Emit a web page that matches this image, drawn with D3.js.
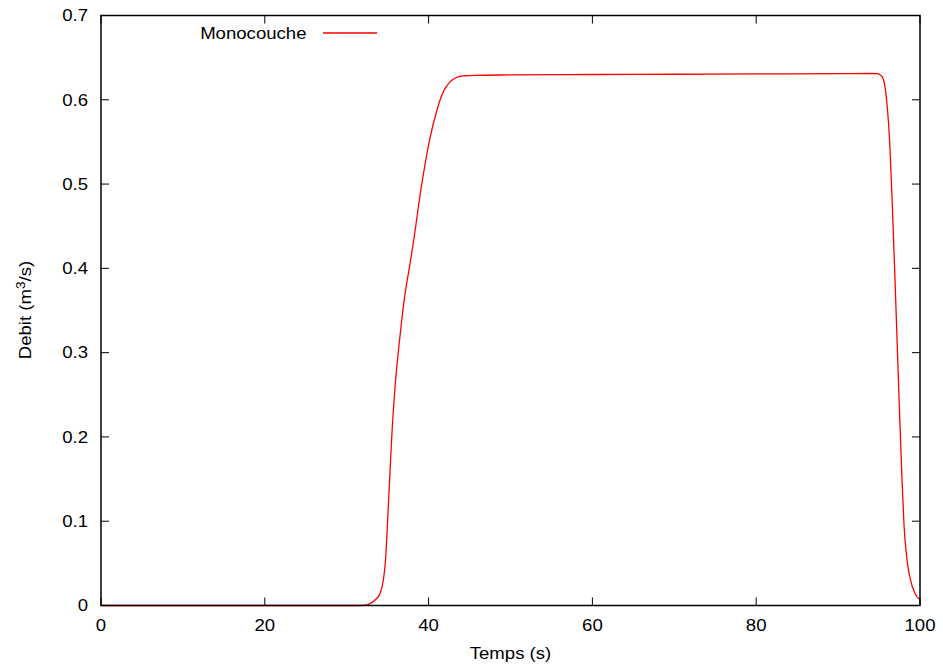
<!DOCTYPE html>
<html><head><meta charset="utf-8">
<script src="https://cdn.jsdelivr.net/npm/d3@7"></script>
<style>body{margin:0;background:#fff}text{font-family:"Liberation Sans",Arial,sans-serif;}</style>
</head><body>
<svg id="c" width="943" height="668"></svg>
<script>
const seriesName = "Monocouche";
const time = [0,10,20,30,32,32.8,33.4,34.07,34.7,35.1,35.5,35.9,36.3,36.7,37.1,37.6,38.1,39.1,40.2,41.0,41.6,42.1,42.6,43.1,43.7,44.5,45.5,50,60,70,80,90,94,94.8,95.2,95.5,96.0,96.3,96.6,96.9,97.2,97.5,97.8,98.05,98.4,98.8,99.4,100];
const debit = [0,0,0,0,0.0002,0.002,0.006,0.014,0.049,0.121,0.2,0.259,0.301,0.337,0.368,0.398,0.428,0.496,0.556,0.587,0.605,0.615,0.621,0.625,0.6275,0.6285,0.629,0.6295,0.630,0.6303,0.6307,0.631,0.6312,0.631,0.629,0.625,0.592,0.55,0.48,0.40,0.315,0.23,0.15,0.095,0.055,0.032,0.014,0.007];
const xTicks = [0,20,40,60,80,100];
const yTicks = [0,0.1,0.2,0.3,0.4,0.5,0.6,0.7];
const xTickLabels = ["0","20","40","60","80","100"];
const yTickLabels = ["0","0.1","0.2","0.3","0.4","0.5","0.6","0.7"];

const svg = d3.select("#c");
const L=101, R=920, T=15.5, B=605.5;
const x = d3.scaleLinear().domain([0,100]).range([L,R]);
const y = d3.scaleLinear().domain([0,0.7]).range([B,T]);
const tl = 8;
const FS = 16.3, SX = 1.14;

function label(px, py, anchor, str, rot){
  const g = svg.append("g").attr("transform",`translate(${px},${py})` + (rot?` rotate(${rot})`:"") + ` scale(${SX},1)`);
  return g.append("text").attr("x",0).attr("y",0).attr("text-anchor",anchor).attr("font-size",FS).text(str);
}

// ticks
const g = svg.append("g").attr("stroke","#000").attr("stroke-width",1);
xTicks.forEach(v=>{
  g.append("line").attr("x1",x(v)).attr("x2",x(v)).attr("y1",B).attr("y2",B-tl);
  g.append("line").attr("x1",x(v)).attr("x2",x(v)).attr("y1",T).attr("y2",T+tl);
});
yTicks.forEach(v=>{
  g.append("line").attr("x1",L).attr("x2",L+tl).attr("y1",y(v)).attr("y2",y(v));
  g.append("line").attr("x1",R).attr("x2",R-tl).attr("y1",y(v)).attr("y2",y(v));
});
xTicks.forEach((v,i)=> label(x(v), 631, "middle", xTickLabels[i]));
yTicks.forEach((v,i)=> label(88, y(v)+5.8, "end", yTickLabels[i]));

// line
const data = time.map((t,i)=>[t,debit[i]]);
svg.append("path").datum(data)
  .attr("fill","none").attr("stroke","#ff0000").attr("stroke-width",1.3)
  .attr("d", d3.line().x(d=>x(d[0])).y(d=>y(d[1])).curve(d3.curveMonotoneX));

// frame
svg.append("rect").attr("x",L).attr("y",T).attr("width",R-L).attr("height",B-T)
  .attr("fill","none").attr("stroke","#000").attr("stroke-width",1.5);

// legend
label(306.5, 39, "end", seriesName);
svg.append("line").attr("x1",323).attr("x2",377).attr("y1",33).attr("y2",33).attr("stroke","#ff0000").attr("stroke-width",1.3);

// axis titles
label(510.5, 659, "middle", "Temps (s)");
const yt = label(31, 310, "middle", "", -90);
yt.append("tspan").text("Debit (m");
yt.append("tspan").attr("font-size",12).attr("dy",-6).text("3");
yt.append("tspan").attr("dy",6).text("/s)");
</script>
</body></html>
